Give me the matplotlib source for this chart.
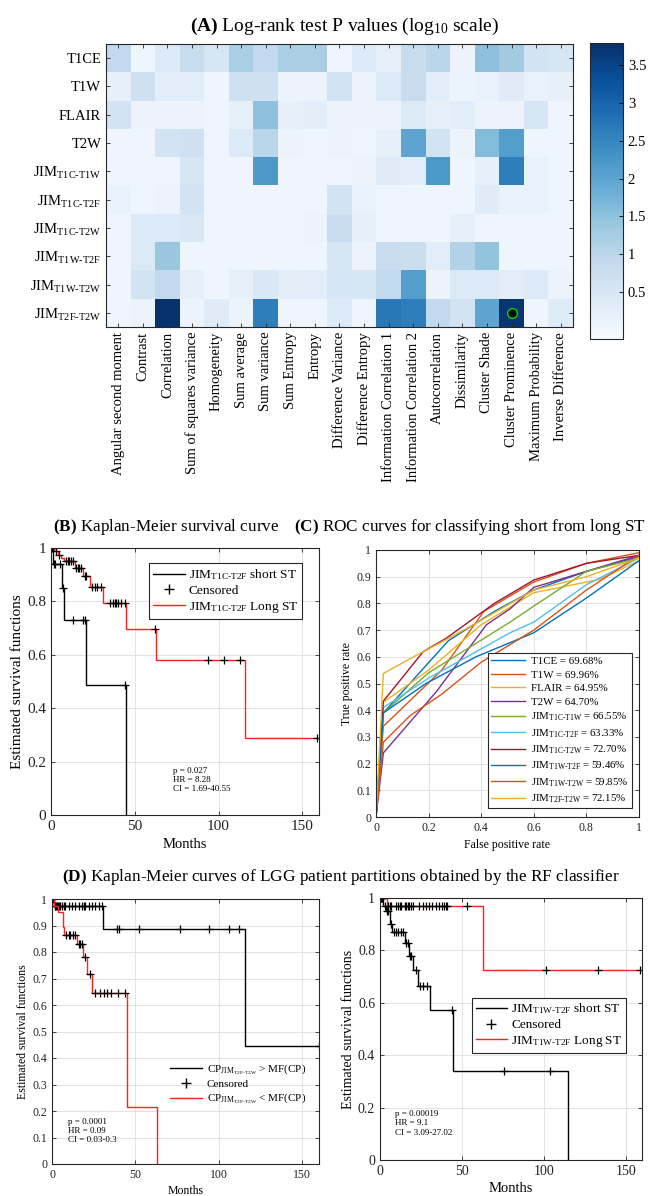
import numpy as np
import matplotlib
matplotlib.use('Agg')
import matplotlib.pyplot as plt
from matplotlib.lines import Line2D

plt.rcParams['font.family'] = ['Liberation Serif', 'DejaVu Serif']
plt.rcParams['mathtext.fontset'] = 'custom'
plt.rcParams['mathtext.rm'] = 'Liberation Serif'
plt.rcParams['mathtext.it'] = 'Liberation Serif:italic'
plt.rcParams['mathtext.bf'] = 'Liberation Serif:bold'

# ---------------- data ----------------
features = ['Angular second moment', 'Contrast', 'Correlation', 'Sum of squares variance',
            'Homogeneity', 'Sum average', 'Sum variance', 'Sum Entropy', 'Entropy',
            'Difference Variance', 'Difference Entropy', 'Information Correlation 1',
            'Information Correlation 2', 'Autocorrelation', 'Dissimilarity', 'Cluster Shade',
            'Cluster Prominence', 'Maximum Probability', 'Inverse Difference']
sequences = ['T1CE', 'T1W', 'FLAIR', 'T2W',
             r'JIM$_{\text{T1C-T1W}}$', r'JIM$_{\text{T1C-T2F}}$', r'JIM$_{\text{T1C-T2W}}$',
             r'JIM$_{\text{T1W-T2F}}$', r'JIM$_{\text{T1W-T2W}}$', r'JIM$_{\text{T2F-T2W}}$']
logp_T1CE   = [0.9, 0.05, 0.4, 0.8, 0.5, 1.2, 0.9, 1.2, 1.2, 0.05, 0.4, 0.2, 0.8, 1.0, 0.1, 1.5, 1.3, 0.6, 0.5]
logp_T1W    = [0.2, 0.7, 0.3, 0.3, 0.05, 0.7, 0.7, 0.1, 0.1, 0.6, 0.1, 0.4, 0.8, 0.3, 0.1, 0.15, 0.35, 0.15, 0.2]
logp_FLAIR  = [0.6, 0.1, 0.1, 0.1, 0.05, 0.2, 1.5, 0.2, 0.25, 0.1, 0.1, 0.1, 0.4, 0.2, 0.3, 0.1, 0.1, 0.5, 0.05]
logp_T2W    = [0.05, 0.05, 0.6, 0.7, 0.05, 0.4, 1.0, 0.1, 0.05, 0.1, 0.05, 0.2, 2.0, 0.6, 0.1, 1.6, 2.1, 0.05, 0.05]
logp_C1_T1W = [0.05, 0.05, 0.05, 0.5, 0.05, 0.05, 2.2, 0.05, 0.05, 0.05, 0.1, 0.35, 0.3, 2.2, 0.05, 0.2, 2.6, 0.15, 0.05]
logp_C1_T2F = [0.15, 0.05, 0.1, 0.6, 0.05, 0.05, 0.05, 0.05, 0.05, 0.6, 0.15, 0.05, 0.05, 0.05, 0.05, 0.35, 0.15, 0.15, 0.05]
logp_C1_T2W = [0.05, 0.4, 0.4, 0.45, 0.05, 0.05, 0.05, 0.05, 0.1, 0.8, 0.2, 0.05, 0.05, 0.05, 0.2, 0.05, 0.05, 0.05, 0.05]
logp_W1_T2F = [0.05, 0.4, 1.4, 0.05, 0.05, 0.05, 0.05, 0.05, 0.05, 0.5, 0.1, 0.8, 0.75, 0.3, 1.1, 1.45, 0.05, 0.05, 0.05]
logp_W1_T2W = [0.05, 0.6, 0.9, 0.2, 0.05, 0.2, 0.45, 0.25, 0.3, 0.5, 0.5, 0.9, 2.1, 0.1, 0.4, 0.4, 0.3, 0.4, 0.1]
logp_F_T2W  = [0.05, 0.1, 3.75, 0.1, 0.35, 0.1, 2.6, 0.05, 0.05, 0.4, 0.05, 2.7, 2.6, 0.9, 0.6, 2.0, 3.7, 0.05, 0.35]
heat_rows = [logp_T1CE, logp_T1W, logp_FLAIR, logp_T2W, logp_C1_T1W,
             logp_C1_T2F, logp_C1_T2W, logp_W1_T2F, logp_W1_T2W, logp_F_T2W]
highlight_feature = 'Cluster Prominence'
highlight_sequence = r'JIM$_{\text{T2F-T2W}}$'
cbar_ticks = [0.5, 1, 1.5, 2, 2.5, 3, 3.5]

# Panel B
b_short_t = [0, 1, 6.5, 8, 20.7, 45]
b_short_s = [1, 0.94, 0.851, 0.73, 0.486, 0.0]
b_short_c = [0.5, 1.5, 2.5, 5.5, 7, 13, 19, 20, 44.3]
b_long_t = [0, 2, 4, 6, 8, 14.5, 19, 23.5, 31, 44.6, 62.4, 115.7]
b_long_s = [1, 0.988, 0.975, 0.963, 0.95, 0.925, 0.897, 0.855, 0.795, 0.696, 0.579, 0.29]
b_long_c = [1, 3, 5, 9, 10, 11, 12, 13, 15, 16, 17, 18, 20, 21, 24.5, 26, 27.5, 30,
            35, 37, 38, 39, 40, 42, 44, 62, 94, 103, 113, 159]

# Panel C
roc_names = ['T1CE', 'T1W', 'FLAIR', 'T2W', r'JIM$_{\text{T1C-T1W}}$', r'JIM$_{\text{T1C-T2F}}$',
             r'JIM$_{\text{T1C-T2W}}$', r'JIM$_{\text{T1W-T2F}}$', r'JIM$_{\text{T1W-T2W}}$',
             r'JIM$_{\text{T2F-T2W}}$']
roc_auc = ['69.68%', '69.96%', '64.95%', '64.70%', '66.55%', '63.33%', '72.70%', '59.46%',
           '59.85%', '72.15%']
roc_fpr = [
    [0, 0.028, 0.275, 0.45, 0.6, 0.8, 1],
    [0, 0.028, 0.25, 0.41, 0.6, 0.8, 1],
    [0, 0.028, 0.2, 0.4, 0.6, 0.75, 0.85, 1],
    [0, 0.028, 0.23, 0.42, 0.51, 0.6, 0.8, 1],
    [0, 0.028, 0.2, 0.51, 0.6, 0.8, 1],
    [0, 0.028, 0.2, 0.357, 0.51, 0.6, 0.8, 1],
    [0, 0.028, 0.18, 0.268, 0.45, 0.6, 0.8, 1],
    [0, 0.028, 0.19, 0.38, 0.6, 0.8, 1],
    [0, 0.028, 0.13, 0.25, 0.4, 0.6, 0.8, 1],
    [0, 0.028, 0.154, 0.268, 0.357, 0.6, 0.8, 1],
]
roc_tpr = [
    [0, 0.39, 0.66, 0.77, 0.85, 0.92, 0.975],
    [0, 0.34, 0.55, 0.77, 0.88, 0.95, 0.99],
    [0, 0.43, 0.55, 0.72, 0.84, 0.87, 0.89, 0.96],
    [0, 0.24, 0.47, 0.72, 0.78, 0.86, 0.92, 0.98],
    [0, 0.39, 0.54, 0.73, 0.79, 0.92, 0.97],
    [0, 0.41, 0.52, 0.606, 0.69, 0.73, 0.87, 0.97],
    [0, 0.434, 0.62, 0.67, 0.8, 0.8875, 0.95, 0.98],
    [0, 0.39, 0.5, 0.6, 0.69, 0.82, 0.96],
    [0, 0.28, 0.38, 0.46, 0.58, 0.7, 0.85, 0.98],
    [0, 0.5375, 0.606, 0.665, 0.7125, 0.85, 0.9, 0.97],
]

# Panel D left
dl_hi_t = [0, 1, 30.5, 115.6]
dl_hi_s = [1, 0.975, 0.888, 0.445]
dl_hi_c = [0.5, 1.5, 2, 2.5, 3, 3.5, 4, 5, 6, 7, 8, 10, 12, 14, 16, 18, 19, 20, 22, 24,
           26, 28, 30, 39, 40, 52, 77, 94, 106, 112, 160]
dl_lo_t = [0, 1, 3.8, 6.4, 7.4, 15, 18.7, 21, 24, 45, 63]
dl_lo_s = [1, 0.975, 0.95, 0.895, 0.866, 0.83, 0.78, 0.717, 0.645, 0.215, 0.0]
dl_lo_c = [8.6, 10, 11, 12.5, 14, 16, 17, 18, 20, 22.6, 26, 28.7, 31, 33, 35.5, 39.5, 43.5]

# Panel D right
dr_short_t = [0, 2, 3.5, 6, 7.5, 15, 18, 20, 23.4, 30.5, 44.3, 115]
dr_short_s = [1, 0.97, 0.95, 0.902, 0.87, 0.83, 0.78, 0.726, 0.666, 0.571, 0.341, 0.0]
dr_short_c = [0.5, 1, 1.5, 3, 4, 5, 7, 8.5, 9.5, 11, 13, 14, 16, 17, 18.5, 19, 22, 24.4,
              26.4, 28.5, 43.7, 76, 103.7]
dr_long_t = [0, 4, 62.6]
dr_long_s = [1, 0.971, 0.727]
dr_long_c = [1, 1.5, 5, 6, 7, 10, 11, 12, 13, 15, 16, 17, 18, 19, 20, 24, 26, 28, 30, 32,
             34, 36, 38, 39, 40, 41, 53, 101.6, 133, 158.5]

# ---------------- figure ----------------
W, H = 650, 1196
fig = plt.figure(figsize=(W / 100, H / 100), dpi=100)


def rect(l, t, r, b):
    return [l / W, 1 - b / H, (r - l) / W, (b - t) / H]


FRAME = '#262626'


def style_axes(ax, fs):
    for sp in ax.spines.values():
        sp.set_color(FRAME)
        sp.set_linewidth(0.8)
    ax.tick_params(direction='in', top=True, right=True, length=3, width=0.6,
                   labelsize=fs, colors=FRAME)


# ---- Panel A ----
axA = fig.add_axes(rect(106, 44, 573, 327))
data = np.array(heat_rows)
im = axA.imshow(data, cmap='Blues', vmin=-0.12, vmax=3.79, aspect='auto',
                interpolation='nearest')
axA.set_xticks(range(len(features)))
axA.set_xticklabels(features, rotation=90, fontsize=10.5)
axA.set_yticks(range(len(sequences)))
axA.set_yticklabels(sequences, fontsize=10.5)
style_axes(axA, 10.5)
axA.tick_params(labelcolor='black')
axA.plot(features.index(highlight_feature), sequences.index(highlight_sequence), 'o',
         mfc='black', mec='#00dd00', ms=7, mew=1)
cax = fig.add_axes(rect(590, 43, 623, 339))
cb = fig.colorbar(im, cax=cax, ticks=cbar_ticks)
cb.ax.set_yticklabels(['0.5', '1', '1.5', '2', '2.5', '3', '3.5'])
cb.ax.tick_params(direction='in', labelsize=10.5, length=3, width=0.6)
cb.outline.set_edgecolor(FRAME)
cb.outline.set_linewidth(0.8)
fig.text(345 / W, 1 - 26 / H, r'$\mathbf{(A)}$ Log-rank test P values (log$_{10}$ scale)',
         ha='center', va='center', fontsize=14)


def km(ax, times, surv, censors, color):
    times = np.asarray(times, float)
    surv = np.asarray(surv, float)
    cens = np.asarray(censors, float)
    tend = times[-1] if surv[-1] == 0 else max(times[-1], cens.max())
    t = np.append(times, tend)
    s = np.append(surv, surv[-1])
    ax.step(t, s, where='post', color=color, lw=1.0)
    idx = np.searchsorted(times, cens, side='right') - 1
    ax.plot(cens, surv[idx], '+', color='black', ms=6, mew=0.9, ls='none')


def km_axes(ax, fs, yticks, ylabel_fs, xlabel_fs, xpad):
    ax.set_xlim(0, 160)
    ax.set_ylim(0, 1)
    ax.set_xticks([0, 50, 100, 150])
    ax.set_yticks(yticks)
    ax.set_yticklabels([('%g' % v) for v in yticks])
    ax.grid(True, color='#dedede', lw=0.6)
    ax.set_axisbelow(True)
    style_axes(ax, fs)
    ax.tick_params(labelcolor='#222222')
    ax.set_ylabel('Estimated survival functions', fontsize=ylabel_fs, labelpad=2)
    ax.set_xlabel('Months', fontsize=xlabel_fs, labelpad=xpad)


# ---- Panel B ----
axB = fig.add_axes(rect(51, 548, 319, 815))
km(axB, b_short_t, b_short_s, b_short_c, 'black')
km(axB, b_long_t, b_long_s, b_long_c, '#ff2020')
km_axes(axB, 11, [0, 0.2, 0.4, 0.6, 0.8, 1], 11, 10.5, 4)
handlesB = [Line2D([], [], color='black', lw=1),
            Line2D([], [], color='black', marker='+', ls='none', ms=7),
            Line2D([], [], color='#ff2020', lw=1)]
legB = axB.legend(handlesB, [r'JIM$_{\text{T1C-T2F}}$ short ST', 'Censored',
                             r'JIM$_{\text{T1C-T2F}}$ Long ST'],
                  loc='upper right', bbox_to_anchor=(0.962, 0.968), fontsize=9.6,
                  fancybox=False, edgecolor=FRAME, framealpha=1, borderpad=0.3,
                  labelspacing=0.2, handlelength=2.4, handletextpad=0.3)
legB.get_frame().set_linewidth(0.8)
axB.text(0.456, 0.18, 'p = 0.027\nHR = 8.28\nCI = 1.69-40.55', transform=axB.transAxes,
         fontsize=6.5, va='top', ha='left', linespacing=1.2)
fig.text(166 / W, 1 - 527 / H, r'$\mathbf{(B)}$ Kaplan-Meier survival curve',
         ha='center', va='center', fontsize=12.3)

# ---- Panel C ----
axC = fig.add_axes(rect(376, 550, 639, 817))
matlab_colors = ['#0072BD', '#D95319', '#EDB120', '#7E2F8E', '#77AC30', '#4DBEEE',
                 '#A2142F']
for i, (name, auc) in enumerate(zip(roc_names, roc_auc)):
    axC.plot(roc_fpr[i], roc_tpr[i], color=matlab_colors[i % 7], lw=1.0,
             label='%s = %s' % (name, auc))
axC.set_xlim(0, 1)
axC.set_ylim(0, 1)
axC.set_xticks(np.arange(0, 1.01, 0.2))
axC.set_xticklabels(['0', '0.2', '0.4', '0.6', '0.8', '1'])
axC.set_yticks(np.arange(0, 1.01, 0.1))
axC.set_yticklabels(['0', '0.1', '0.2', '0.3', '0.4', '0.5', '0.6', '0.7', '0.8', '0.9', '1'])
axC.grid(True, color='#dedede', lw=0.6)
axC.set_axisbelow(True)
style_axes(axC, 8.5)
axC.tick_params(labelcolor='#222222')
axC.set_xlabel('False positive rate', fontsize=8.5, labelpad=4)
axC.set_ylabel('True positive rate', fontsize=8.5, labelpad=2)
legC = axC.legend(loc='lower right', bbox_to_anchor=(0.993, 0.012), fontsize=7.8,
                  fancybox=False, edgecolor=FRAME, framealpha=1, borderpad=0.3,
                  labelspacing=0.36, handlelength=3.2, handletextpad=0.5)
legC.get_frame().set_linewidth(0.8)
fig.text(470 / W, 1 - 527 / H, r'$\mathbf{(C)}$ ROC curves for classifying short from long ST',
         ha='center', va='center', fontsize=12.3)

# ---- Panel D ----
fig.text(341 / W, 1 - 877 / H,
         r'$\mathbf{(D)}$ Kaplan-Meier curves of LGG patient partitions obtained by the RF classifier',
         ha='center', va='center', fontsize=12.4)

axDL = fig.add_axes(rect(52, 899, 319, 1164))
km(axDL, dl_hi_t, dl_hi_s, dl_hi_c, 'black')
km(axDL, dl_lo_t, dl_lo_s, dl_lo_c, '#ff2020')
km_axes(axDL, 8.5, list(np.round(np.arange(0, 1.01, 0.1), 1)), 8.5, 8.5, 3)
axDL.set_yticklabels(['0', '0.1', '0.2', '0.3', '0.4', '0.5', '0.6', '0.7', '0.8', '0.9', '1'])
handlesDL = [Line2D([], [], color='black', lw=1),
             Line2D([], [], color='black', marker='+', ls='none', ms=7),
             Line2D([], [], color='#ff2020', lw=1)]
legDL = axDL.legend(handlesDL, [r'CP$_{\mathrm{JIM}_{\text{T2F-T2W}}}$ > MF(CP)', 'Censored',
                                r'CP$_{\mathrm{JIM}_{\text{T2F-T2W}}}$ < MF(CP)'],
                    loc='upper left', bbox_to_anchor=(0.405, 0.42), fontsize=8,
                    frameon=False, labelspacing=0.25, handlelength=2.9, handletextpad=0.4)
axDL.text(0.061, 0.175, 'p = 0.0001\nHR = 0.09\nCI = 0.03-0.3', transform=axDL.transAxes,
          fontsize=6.5, va='top', ha='left', linespacing=1.2)

axDR = fig.add_axes(rect(380, 898, 642, 1160))
km(axDR, dr_short_t, dr_short_s, dr_short_c, 'black')
km(axDR, dr_long_t, dr_long_s, dr_long_c, '#ff2020')
km_axes(axDR, 10, [0, 0.2, 0.4, 0.6, 0.8, 1], 10, 10.5, 3)
handlesDR = [Line2D([], [], color='black', lw=1),
             Line2D([], [], color='black', marker='+', ls='none', ms=7),
             Line2D([], [], color='#ff2020', lw=1)]
legDR = axDR.legend(handlesDR, [r'JIM$_{\text{T1W-T2F}}$ short ST', 'Censored',
                                r'JIM$_{\text{T1W-T2F}}$ Long ST'],
                    loc='upper right', bbox_to_anchor=(0.965, 0.645), fontsize=9.5,
                    fancybox=False, edgecolor=FRAME, framealpha=1, borderpad=0.3,
                    labelspacing=0.2, handlelength=2.4, handletextpad=0.3)
legDR.get_frame().set_linewidth(0.8)
axDR.text(0.057, 0.19, 'p = 0.00019\nHR = 9.1\nCI = 3.09-27.02', transform=axDR.transAxes,
          fontsize=6.5, va='top', ha='left', linespacing=1.2)

fig.savefig('out.png', dpi=100)
